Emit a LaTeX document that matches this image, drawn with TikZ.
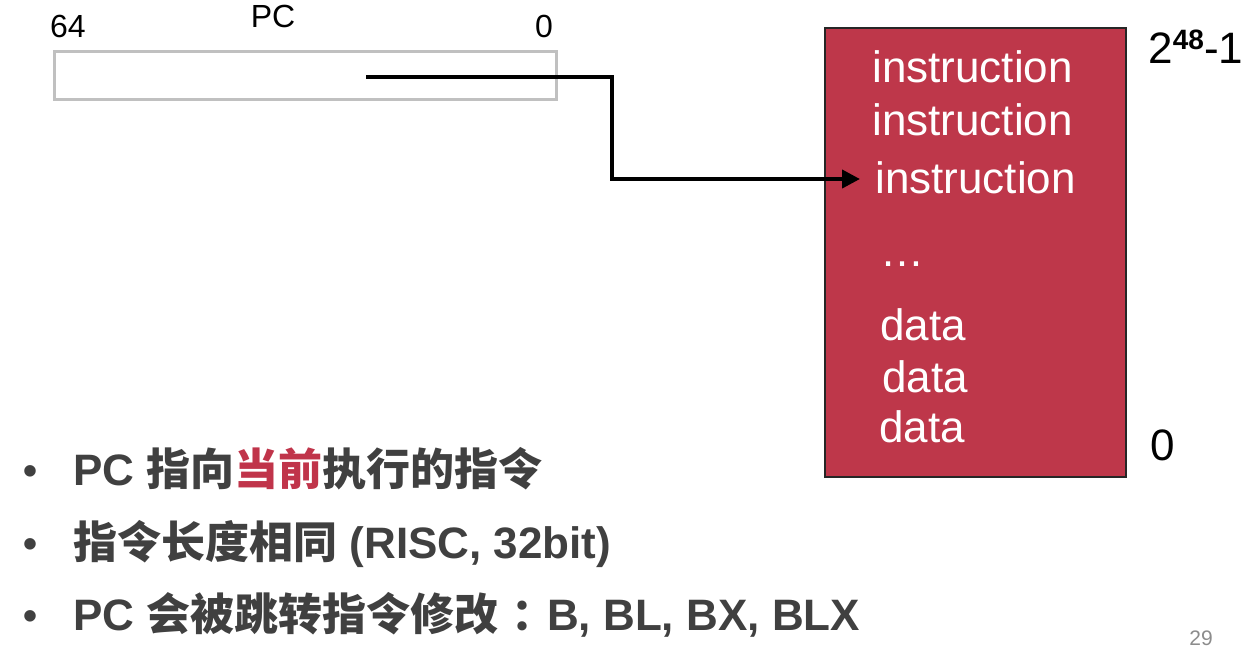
\documentclass[tikz,border=0pt]{standalone}
\usepackage{fontspec}
\setmainfont{Liberation Sans}
\newfontfamily\cjk{Noto Sans CJK SC}
\usetikzlibrary{arrows.meta}
\definecolor{memred}{HTML}{BE374A}
\definecolor{hlred}{HTML}{C0344A}
\definecolor{txtgray}{HTML}{404040}
\definecolor{boxgray}{HTML}{C0C0C0}
\newcommand{\zh}[1]{{\cjk\bfseries #1}}
\begin{document}
\begin{tikzpicture}[x=0.5pt,y=-0.5pt,
  lbl/.style={inner sep=0pt,font=\fontsize{16}{19}\selectfont,anchor=base},
  memtxt/.style={inner sep=0pt,text=white,font=\fontsize{22}{26}\selectfont,anchor=base west},
  addr/.style={inner sep=0pt,font=\fontsize{22}{26}\selectfont,anchor=base west},
  bullet/.style={inner sep=0pt,text=txtgray,font=\fontsize{22}{26}\selectfont\bfseries,anchor=base west},
  bdot/.style={inner sep=0pt,text=txtgray,font=\fontsize{20}{22}\selectfont\bfseries,anchor=base}]
\useasboundingbox (0,0) rectangle (1252,650);
% PC register
\node[draw=boxgray,line width=1.5pt,minimum width=502pt/2,minimum height=48pt/2,inner sep=0pt,anchor=north west] (pc) at (53,50) {};
\node[lbl] (l64) at (68,37) {64};
\node[lbl] (lpc) at (273,27) {PC};
\node[lbl] (l0) at (544,37) {0};
% memory
\node[draw=black!85,line width=1pt,fill=memred,minimum width=301pt/2,minimum height=449pt/2,inner sep=0pt,anchor=north west] (mem) at (824,27) {};
\node[memtxt] (i1) at (872,82) {instruction};
\node[memtxt] (i2) at (872,135) {instruction};
\node[memtxt] (i3) at (875,193) {instruction};
\node[memtxt] (dots) at (880,266) {\ldots};
\node[memtxt] (d1) at (880,340) {data};
\node[memtxt] (d2) at (882,392) {data};
\node[memtxt] (d3) at (879,442) {data};
\node[addr] (top) at (1148,63) {2\raisebox{0.3em}{\fontsize{14}{16}\selectfont\bfseries 48}-1};
\node[addr] (bot) at (1150,460) {0};
% pointer arrow
\coordinate (ptr) at (366,77);
\coordinate (bend) at (612,179);
\coordinate (tgt) at (860,179);
\draw[line width=2pt,miter limit=10,-{Triangle[length=9pt,width=9pt]}] (ptr) -| (bend) -- (tgt);
% bullets
\node[bdot] (b1) at (31,484) {•};
\node[bullet] (t1) at (73,485) {PC \zh{指向}{\color{hlred}\zh{当前}}\zh{执行的指令}};
\node[bdot] (b2) at (31,557) {•};
\node[bullet] (t2) at (73,558) {\zh{指令长度相同} (RISC, 32bit)};
\node[bdot] (b3) at (31,629) {•};
\node[bullet] (t3) at (73,630) {PC \zh{会被跳转指令修改}\kern0.3em\zh{：}\kern-0.2em B, BL, BX, BLX};
% page number
\node[inner sep=0pt,anchor=base,text=black!45,font=\fontsize{10.5}{12}\selectfont] (pg) at (1201,645) {29};
\end{tikzpicture}
\end{document}
